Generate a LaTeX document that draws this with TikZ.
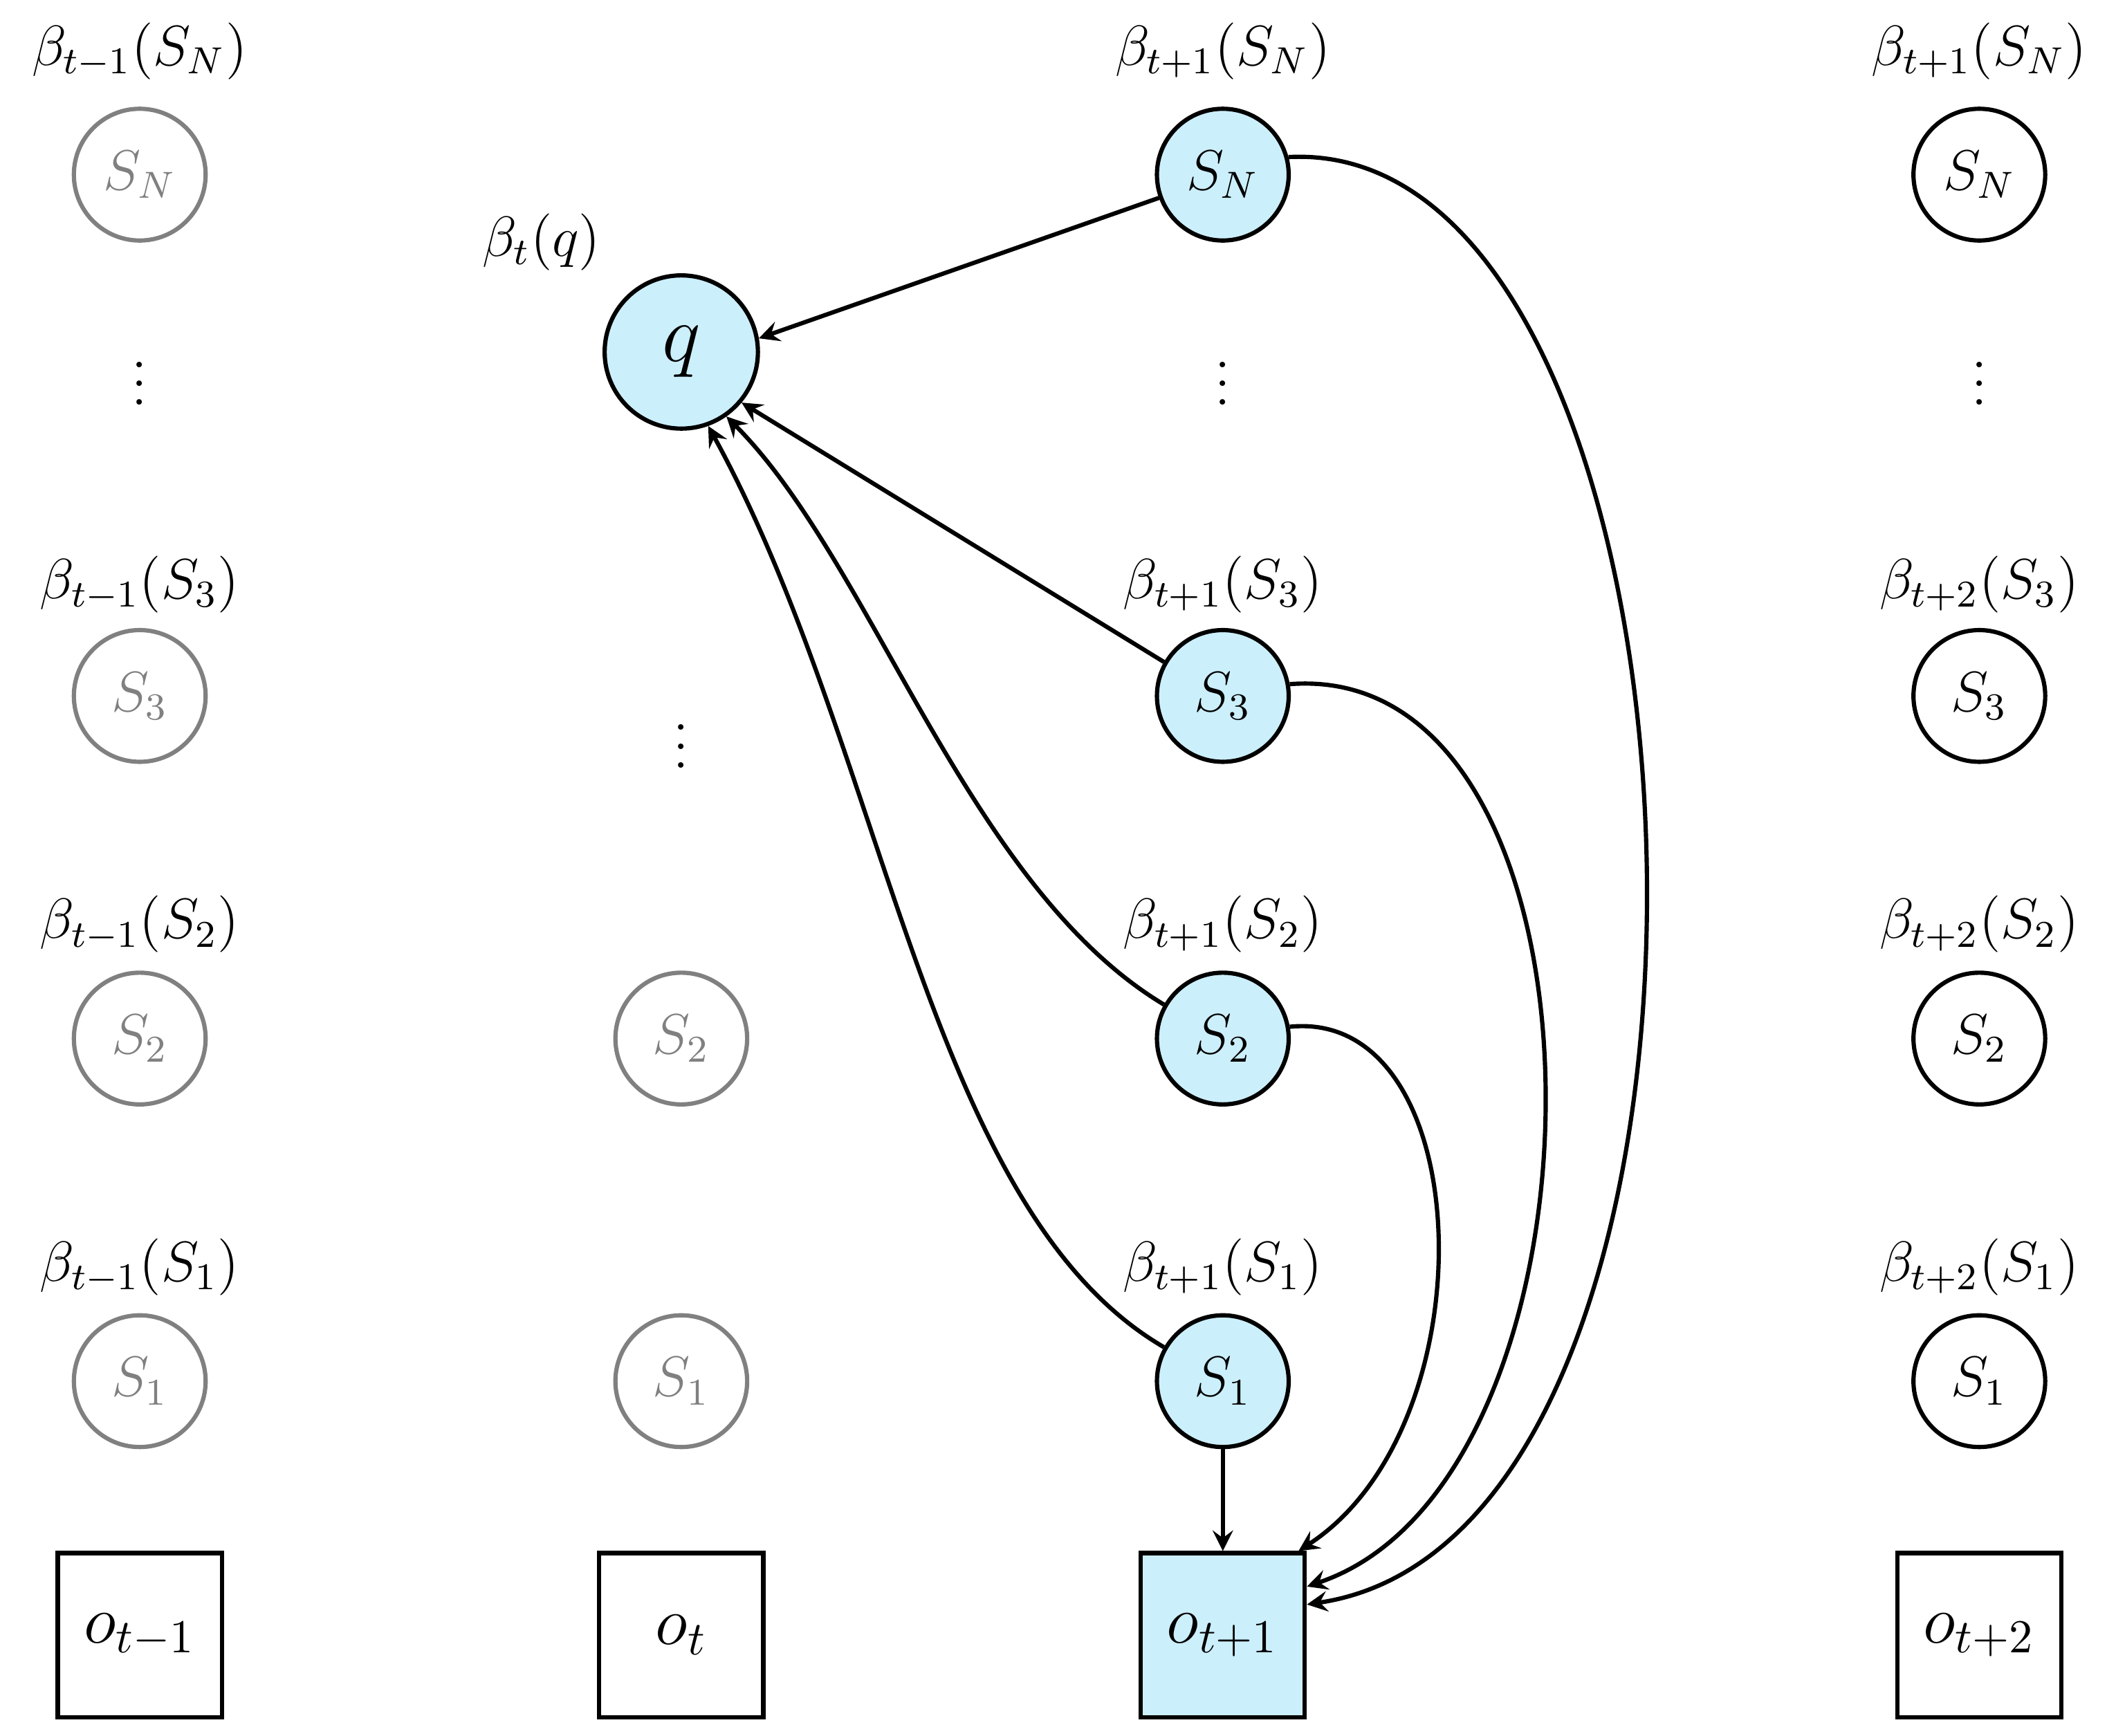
\documentclass[tikz,border=0pt]{standalone}
\begin{document}
\begin{tikzpicture}[x=0.01cm,y=-0.01cm,
  st/.style={circle,draw,line width=0.9pt,minimum size=0.98cm,inner sep=0pt,font=\large},
  gr/.style={st,draw=black!50,text=black!50},
  bl/.style={st,fill=cyan!20},
  ob/.style={draw,line width=0.9pt,minimum size=1.22cm,inner sep=0pt},
  dt/.style={inner sep=0pt,font=\large},
  ar/.style={->,line width=0.9pt,>=stealth}]
\useasboundingbox (0,0) rectangle (1568,1292);
% column t-1
\node[gr] (aN) at (104,130) {$S_N$};
\node[dt] (ad) at (104,275) {$\vdots$};
\node[gr] (a3) at (104,518) {$S_3$};
\node[gr] (a2) at (104,773) {$S_2$};
\node[gr] (a1) at (104,1028) {$S_1$};
\node[ob] (ao) at (104,1217) {\Large $o_{t-1}$};
\node (laN) at (104,38) {\large $\beta_{t-1}(S_N)$};
\node (la3) at (104,435) {\large $\beta_{t-1}(S_3)$};
\node (la2) at (104,688) {\large $\beta_{t-1}(S_2)$};
\node (la1) at (104,943) {\large $\beta_{t-1}(S_1)$};
% column t
\node[bl,minimum size=1.14cm] (q) at (507,262) {\LARGE $q$};
\node (lq) at (403,180) {\large $\beta_{t}(q)$};
\node[dt] (bd) at (507,545) {$\vdots$};
\node[gr] (b2) at (507,773) {$S_2$};
\node[gr] (b1) at (507,1028) {$S_1$};
\node[ob] (bo) at (507,1217) {\Large $o_{t}$};
% column t+1
\node[bl] (cN) at (910,130) {$S_N$};
\node[dt] (cd) at (910,275) {$\vdots$};
\node[bl] (c3) at (910,518) {$S_3$};
\node[bl] (c2) at (910,773) {$S_2$};
\node[bl] (c1) at (910,1028) {$S_1$};
\node[ob,fill=cyan!20] (co) at (910,1217) {\Large $o_{t+1}$};
\node (lcN) at (910,38) {\large $\beta_{t+1}(S_N)$};
\node (lc3) at (910,435) {\large $\beta_{t+1}(S_3)$};
\node (lc2) at (910,688) {\large $\beta_{t+1}(S_2)$};
\node (lc1) at (910,943) {\large $\beta_{t+1}(S_1)$};
% column t+2
\node[st] (dN) at (1473,130) {$S_N$};
\node[dt] (dd) at (1473,275) {$\vdots$};
\node[st] (d3) at (1473,518) {$S_3$};
\node[st] (d2) at (1473,773) {$S_2$};
\node[st] (d1) at (1473,1028) {$S_1$};
\node[ob] (do) at (1473,1217) {\Large $o_{t+2}$};
\node (ldN) at (1473,38) {\large $\beta_{t+1}(S_N)$};
\node (ld3) at (1473,435) {\large $\beta_{t+2}(S_3)$};
\node (ld2) at (1473,688) {\large $\beta_{t+2}(S_2)$};
\node (ld1) at (1473,943) {\large $\beta_{t+2}(S_1)$};
% connectors
\draw[ar] (cN.200) -- (q.10);
\draw[ar] (c3.150) -- (q.-40);
\draw[ar] (c2.150) .. controls (720,660) and (650,420) .. (q.-55);
\draw[ar] (c1.150) .. controls (690,900) and (660,560) .. (q.-70);
\draw[ar] (c1) -- (co);
\draw[ar] (cN.15) .. controls (1290,100) and (1330,1140) .. (co.20);
\draw[ar] (c3.10) .. controls (1210,490) and (1210,1100) .. (co.30);
\draw[ar] (c2.10) .. controls (1100,750) and (1110,1060) .. (co.48);
\end{tikzpicture}
\end{document}
